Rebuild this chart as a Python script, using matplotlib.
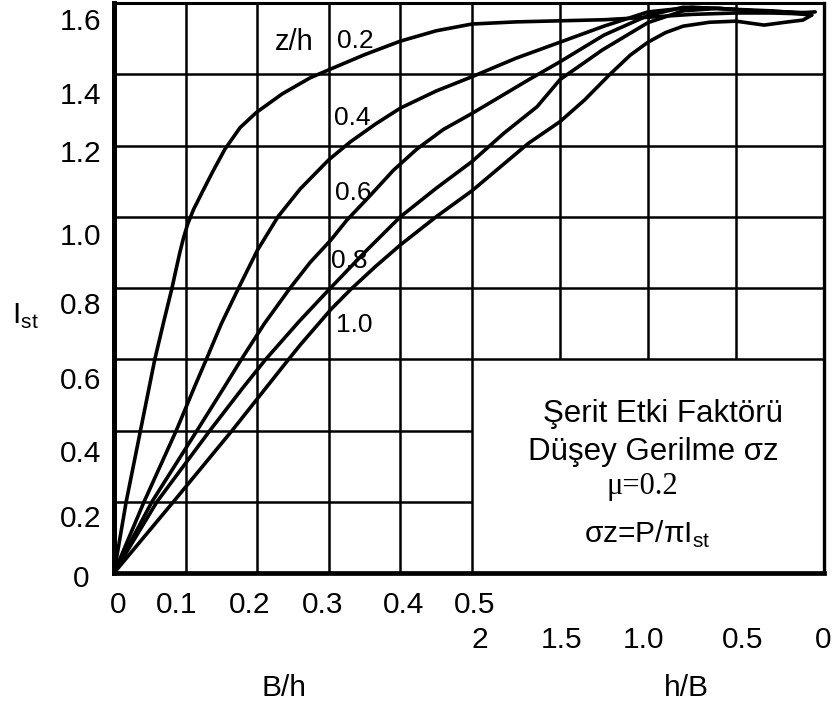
import numpy as np
import matplotlib
matplotlib.use("Agg")
import matplotlib.pyplot as plt
from matplotlib.transforms import ScaledTranslation

plt.rcParams['font.family'] = ['Liberation Sans', 'DejaVu Sans']
plt.rcParams['mathtext.fontset'] = 'custom'
plt.rcParams['mathtext.rm'] = 'Liberation Sans'

# # # # # # # # # # # # # # # # # # # # # # # # # # # # # # # # # # # # # # #
# axis ticks

bh_ticks = [0, 0.1, 0.2, 0.3, 0.4, 0.5]          # left half, B/h
bh_labels = ['0', '0.1', '0.2', '0.3', '0.4', '0.5']
hb_ticks = [2, 1.5, 1.0, 0.5, 0]                 # right half, h/B
hb_labels = ['2', '1.5', '1.0', '0.5', '0']
ist_ticks = [0, 0.2, 0.4, 0.6, 0.8, 1.0, 1.2, 1.4, 1.6]
ist_labels = ['0', '0.2', '0.4', '0.6', '0.8', '1.0', '1.2', '1.4', '1.6']

zh_labels = ['0.2', '0.4', '0.6', '0.8', '1.0']

# # # # # # # # # # # # # # # # # # # # # # # # # # # # # # # # # # # # # # #
# curves: left part against B/h, right part against h/B

# z/h = 0.2
bh_02 = [0, 0.017, 0.037, 0.057, 0.070, 0.081, 0.087, 0.092, 0.097, 0.103, 0.111,
         0.124, 0.138, 0.155, 0.176, 0.199, 0.235, 0.274, 0.303, 0.350, 0.400, 0.450, 0.500]
ist_02_l = [0, 0.2, 0.4, 0.6, 0.71, 0.8, 0.855, 0.9, 0.94, 0.98, 1.02,
            1.072, 1.127, 1.19, 1.25, 1.293, 1.345, 1.39, 1.415, 1.455, 1.493, 1.522, 1.541]
hb_02 = [2.0, 1.75, 1.5, 1.25, 1.0, 0.75, 0.5, 0.3, 0.15, 0.07]
ist_02_r = [1.541, 1.547, 1.55, 1.553, 1.56, 1.568, 1.572, 1.572, 1.57, 1.566]

# z/h = 0.4
bh_04 = [0, 0.042, 0.087, 0.113, 0.129, 0.150, 0.174, 0.200, 0.229, 0.260, 0.300,
         0.330, 0.365, 0.400, 0.450, 0.500]
ist_04_l = [0, 0.2, 0.4, 0.525, 0.6, 0.7, 0.8, 0.905, 1.0, 1.078, 1.16,
            1.21, 1.26, 1.305, 1.353, 1.393]
hb_04 = [2.0, 1.75, 1.5, 1.25, 1.0, 0.75, 0.5, 0.3, 0.15, 0.05]
ist_04_r = [1.393, 1.445, 1.49, 1.535, 1.575, 1.588, 1.582, 1.578, 1.572, 1.575]

# z/h = 0.6
bh_06 = [0, 0.053, 0.116, 0.155, 0.178, 0.210, 0.246, 0.274, 0.303, 0.325, 0.358,
         0.390, 0.423, 0.460, 0.500]
ist_06_l = [0, 0.2, 0.4, 0.525, 0.6, 0.7, 0.8, 0.872, 0.935, 0.99, 1.06,
            1.13, 1.19, 1.245, 1.29]
hb_06 = [2.0, 1.68, 1.5, 1.25, 1.0, 0.8, 0.6, 0.4, 0.2, 0.08]
ist_06_r = [1.29, 1.384, 1.435, 1.51, 1.565, 1.588, 1.585, 1.578, 1.575, 1.572]

# z/h = 0.8
bh_08 = [0, 0.060, 0.134, 0.180, 0.212, 0.258, 0.300, 0.350, 0.400, 0.450, 0.500]
ist_08_l = [0, 0.2, 0.4, 0.52, 0.6, 0.705, 0.795, 0.9, 1.0, 1.08, 1.155]
hb_08 = [2.0, 1.82, 1.63, 1.5, 1.26, 1.0, 0.8, 0.6, 0.4, 0.2, 0.08]
ist_08_r = [1.155, 1.234, 1.309, 1.385, 1.468, 1.545, 1.578, 1.585, 1.578, 1.572, 1.568]

# z/h = 1.0
bh_10 = [0, 0.083, 0.165, 0.240, 0.260, 0.303, 0.330, 0.365, 0.400, 0.450, 0.500]
ist_10_l = [0, 0.2, 0.4, 0.59, 0.64, 0.74, 0.795, 0.86, 0.921, 1.0, 1.073]
hb_10 = [2.0, 1.68, 1.5, 1.36, 1.22, 1.10, 1.0, 0.9, 0.8, 0.65, 0.5,
         0.34, 0.22, 0.12, 0.07]
ist_10_r = [1.073, 1.206, 1.267, 1.328, 1.398, 1.454, 1.49, 1.517, 1.535, 1.546, 1.549,
            1.538, 1.546, 1.552, 1.566]

curves = [(bh_02, ist_02_l, hb_02, ist_02_r),
          (bh_04, ist_04_l, hb_04, ist_04_r),
          (bh_06, ist_06_l, hb_06, ist_06_r),
          (bh_08, ist_08_l, hb_08, ist_08_r),
          (bh_10, ist_10_l, hb_10, ist_10_r)]

# # # # # # # # # # # # # # # # # # # # # # # # # # # # # # # # # # # # # # #

HB_W = 0.2458  # axis length of one h/B unit on the right half

def hb_x(hb):
    return 0.5 + (2 - np.asarray(hb, dtype=float)) * HB_W

XMAX = float(hb_x(0))
GRID_LW = 1.8
CURVE_LW = 2.6
FS = 21.5

fig = plt.figure(figsize=(8.37, 7.09), dpi=100)
ax = fig.add_axes([114 / 837, 136 / 709, 710 / 837, 570 / 709])
ax.set_xlim(0, XMAX)
ax.set_ylim(0, 1.6)
ax.set_xticks([])
ax.set_yticks([])

def px(dx, dy):  # offset in pixels (dy downwards)
    return ax.transData + ScaledTranslation(dx / 100, -dy / 100, fig.dpi_scale_trans)

# grid, partly open in the lower right corner for the caption box
ax.vlines(bh_ticks[1:], 0, 1.6, color='k', lw=GRID_LW)
ax.vlines(hb_x(hb_ticks[1:-1]), 0.6, 1.6, color='k', lw=GRID_LW)
ax.hlines(ist_ticks[1:3], 0, 0.5, color='k', lw=GRID_LW)
ax.hlines(ist_ticks[3:-1], 0, XMAX, color='k', lw=GRID_LW)

for s, w in zip(['left', 'bottom', 'right', 'top'], [3.6, 3.4, 2.4, 2.2]):
    ax.spines[s].set_linewidth(w)
    ax.spines[s].set_color('k')

for bh, il, hb, ir in curves:
    x = np.concatenate([bh, hb_x(hb)])
    y = np.concatenate([il, ir])
    ax.plot(x, y, color='k', lw=CURVE_LW, solid_joinstyle='round',
            solid_capstyle='round', zorder=3)

# tick labels
ylab_dy = [14, 25, 32, 30, 26, 28, 17, 30, 27]
for v, lab, dy in zip(ist_ticks, ist_labels, ylab_dy):
    ax.text(0, v, lab, transform=px(-33, dy), ha='center', va='baseline', fontsize=FS)

bh_dx = [4, -9, -8, -6, 3, 3]
for v, lab, dx in zip(bh_ticks, bh_labels, bh_dx):
    ax.text(v, 0, lab, transform=px(dx, 40), ha='center', va='baseline', fontsize=FS)

hb_dx = [8, 2, -5, 7, -1]
for v, lab, dx in zip(hb_ticks, hb_labels, hb_dx):
    ax.text(hb_x(v), 0, lab, transform=px(dx, 75), ha='center', va='baseline', fontsize=FS)

ax.text(0.2374, 0, 'B/h', transform=px(0, 123), ha='center', va='baseline', fontsize=FS)
ax.text(0.7990, 0, 'h/B', transform=px(0, 123), ha='center', va='baseline', fontsize=FS)
ax.text(0, 0.699, r'I$_{\mathrm{st}}$', transform=px(-102, 0), ha='left', va='baseline',
        fontsize=FS)

# curve labels
ax.text(0.2514, 1.468, 'z/h', ha='center', va='baseline', fontsize=21)
zh_pos = [(0.3373, 1.4737), (0.3331, 1.2575), (0.3338, 1.047), (0.3282, 0.856), (0.3352, 0.6765)]
for lab, (x, y) in zip(zh_labels, zh_pos):
    ax.text(x, y, lab, ha='center', va='baseline', fontsize=19, zorder=2)

# caption box
ax.text(0.7668, 0.4239, 'Şerit Etki Faktörü', ha='center', va='baseline', fontsize=22.5)
ax.text(0.7528, 0.3172, 'Düşey Gerilme σz', ha='center', va='baseline', fontsize=22.5)
ax.text(0.7374, 0.2218, 'μ=0.2', ha='center', va='baseline', fontsize=22,
        family=['Liberation Serif', 'DejaVu Serif'])
ax.text(0.7444, 0.0842, r'σz=P/πI$_{\mathrm{st}}$', ha='center', va='baseline', fontsize=21.5)

fig.savefig('out.png', dpi=100)
